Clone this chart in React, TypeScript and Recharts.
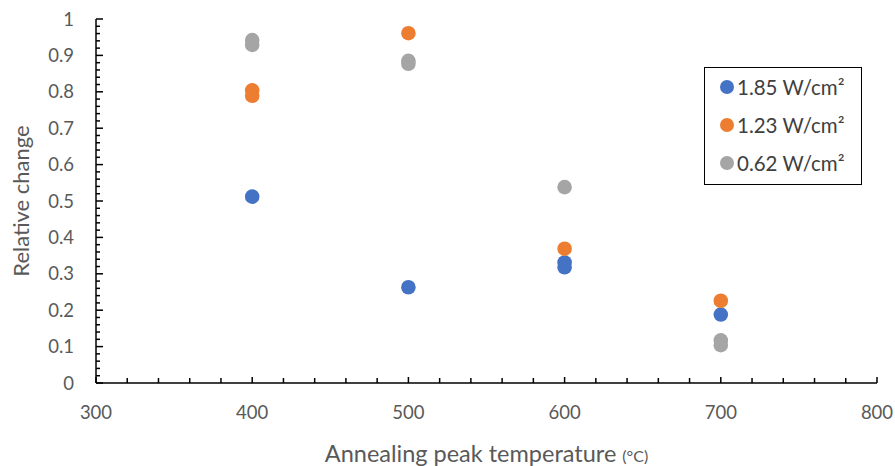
import { ScatterChart, Scatter, XAxis, YAxis, Legend } from 'recharts';

const FONT = 'Lato, "Open Sans", sans-serif';
const TEXT = '#595959';

// annealing peak temperature (°C) and measured relative change, per power density
const highTemps = [400, 500, 600, 600, 700];
const highValues = [0.512, 0.263, 0.331, 0.318, 0.188];

const midTemps = [400, 400, 500, 600, 700];
const midValues = [0.804, 0.789, 0.961, 0.369, 0.226];

const lowTemps = [400, 400, 500, 500, 600, 700, 700];
const lowValues = [0.942, 0.929, 0.885, 0.877, 0.538, 0.117, 0.104];

const seriesNames = ['1.85 W/cm²', '1.23 W/cm²', '0.62 W/cm²'];
const seriesColors = ['#4472C4', '#ED7D31', '#A5A5A5'];

const xTicks = [300, 320, 340, 360, 380, 400, 420, 440, 460, 480, 500, 520, 540, 560, 580, 600, 620, 640, 660, 680, 700, 720, 740, 760, 780, 800];
const yTicks = Array.from({ length: 51 }, (_, i) => i / 50);

const toPoints = (xs: number[], ys: number[]) => xs.map((x, i) => ({ x, y: ys[i] }));

const XTick = ({ x, y, payload }: any) => {
  const major = payload.value % 100 === 0;
  return (
    <g>
      <line x1={x} x2={x} y1={y} y2={y - (major ? 6 : 5)} stroke="#000" strokeWidth={1.5} />
      {major && (
        <text x={x} y={y + 36} textAnchor="middle" fill={TEXT} fontSize={18.5} fontFamily={FONT}>
          {payload.value}
        </text>
      )}
    </g>
  );
};

const YTick = ({ x, y, payload }: any) => {
  const major = Math.round(payload.value * 100) % 10 === 0;
  return (
    <g>
      <line x1={x} x2={x + (major ? 7 : 4)} y1={y} y2={y} stroke="#000" strokeWidth={1.5} />
      {major && (
        <text x={x - 22} y={y + 6.5} textAnchor="end" fill={TEXT} fontSize={18.5} fontFamily={FONT}>
          {String(Math.round(payload.value * 10) / 10)}
        </text>
      )}
    </g>
  );
};

const LegendBox = () => (
  <div
    style={{
      width: 156,
      height: 116,
      border: '1.5px solid #000',
      background: '#fff',
      fontFamily: FONT,
      fontSize: 20.5,
      color: '#404040',
      position: 'relative',
      boxSizing: 'content-box',
    }}
  >
    {seriesNames.map((name, i) => (
      <div
        key={name}
        style={{ position: 'absolute', left: 15, top: 7 + i * 38, display: 'flex', alignItems: 'center', height: 24, whiteSpace: 'nowrap' }}
      >
        <span
          style={{ width: 14, height: 14, borderRadius: 7, background: seriesColors[i], display: 'inline-block', marginRight: 3 }}
        />
        <span>{name}</span>
      </div>
    ))}
  </div>
);

export default function App() {
  const series = [
    toPoints(highTemps, highValues),
    toPoints(midTemps, midValues),
    toPoints(lowTemps, lowValues),
  ];

  return (
    <div style={{ position: 'absolute', left: 0, top: 0, background: '#fff' }}>
      <ScatterChart width={895} height={466} margin={{ top: 19, right: 18, left: 0, bottom: 0 }}>
        <XAxis
          type="number"
          dataKey="x"
          domain={[300, 800]}
          ticks={xTicks}
          interval={0}
          tick={<XTick />}
          tickLine={false}
          tickSize={0}
          tickMargin={0}
          height={83}
          axisLine={{ stroke: '#000', strokeWidth: 1.5 }}
          label={{
            content: ({ viewBox }: any) => (
              <text
                x={viewBox.x + viewBox.width / 2}
                y={viewBox.y + 79}
                textAnchor="middle"
                fill={TEXT}
                fontSize={23.5}
                fontFamily={FONT}
              >
                Annealing peak temperature <tspan fontSize={16}>(°C)</tspan>
              </text>
            ),
          }}
        />
        <XAxis
          xAxisId="top"
          orientation="top"
          type="number"
          dataKey="x"
          domain={[300, 800]}
          height={0}
          tick={false}
          tickLine={false}
          axisLine={{ stroke: '#000', strokeWidth: 1.5 }}
        />
        <YAxis
          type="number"
          dataKey="y"
          domain={[0, 1]}
          ticks={yTicks}
          interval={0}
          tick={<YTick />}
          tickLine={false}
          tickSize={0}
          tickMargin={0}
          width={96}
          axisLine={{ stroke: '#000', strokeWidth: 1.5 }}
          label={{
            content: ({ viewBox }: any) => {
              const cy = viewBox.y + viewBox.height / 2;
              return (
                <text
                  x={29}
                  y={cy}
                  transform={`rotate(-90, 29, ${cy})`}
                  textAnchor="middle"
                  fill={TEXT}
                  fontSize={22}
                  fontFamily={FONT}
                >
                  Relative change
                </text>
              );
            },
          }}
        />
        <YAxis
          yAxisId="right"
          orientation="right"
          type="number"
          dataKey="y"
          domain={[0, 1]}
          width={0}
          tick={false}
          tickLine={false}
          axisLine={{ stroke: '#000', strokeWidth: 1.5 }}
        />
        <Legend
          layout="horizontal"
          align="center"
          verticalAlign="middle"
          content={<LegendBox />}
          wrapperStyle={{ position: 'absolute', left: 704, top: 67, width: 158, height: 118 }}
        />
        {series.map((pts, i) => (
          <Scatter
            key={seriesNames[i]}
            name={seriesNames[i]}
            data={pts}
            fill={seriesColors[i]}
            shape={(p: any) => <circle cx={p.cx} cy={p.cy} r={7.3} fill={seriesColors[i]} />}
            isAnimationActive={false}
          />
        ))}
      </ScatterChart>
    </div>
  );
}
